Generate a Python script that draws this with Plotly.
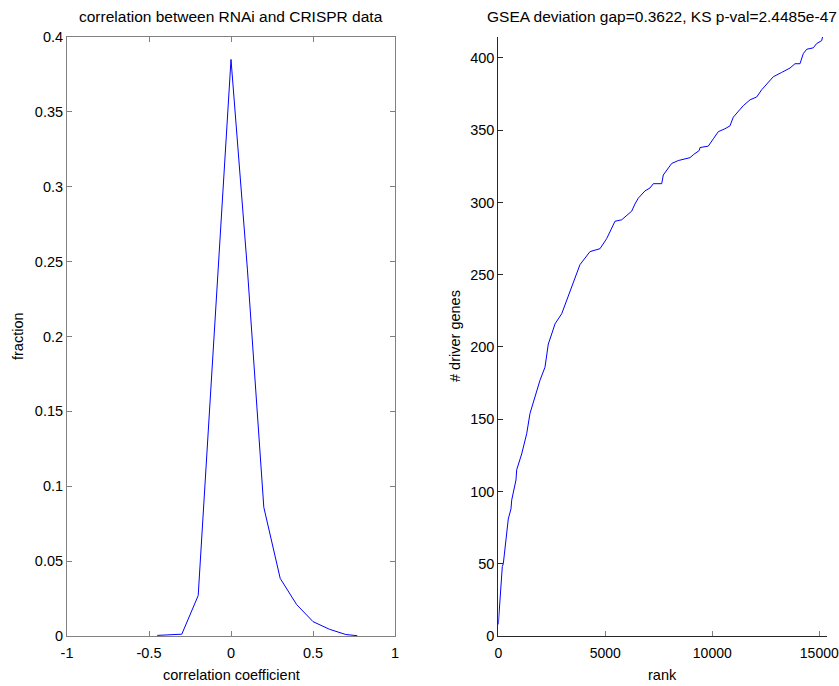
import plotly.graph_objects as go

# Left panel: distribution of correlation coefficients
corr_x = [-0.45, -0.4, -0.3, -0.2, -0.1, 0.0, 0.1, 0.2, 0.3, 0.4, 0.5, 0.6, 0.7, 0.77]
corr_frac = [0.0004, 0.0005, 0.0012, 0.027, 0.204, 0.385, 0.245, 0.086, 0.0385, 0.021, 0.0096, 0.0045, 0.001, 0.0002]

# Right panel: cumulative number of driver genes vs rank
rank = [0, 187, 234, 467, 593, 626, 827, 860, 1093, 1327, 1481, 1715, 1949, 2182, 2336, 2495,
        2650, 2963, 3196, 3490, 3818, 4285, 4752, 5065, 5299, 5453, 5766, 6000, 6234, 6388,
        6542, 6855, 7089, 7243, 7636, 7710, 7869, 8103, 8411, 8645, 8958, 9112, 9393, 9425,
        9813, 10047, 10280, 10593, 10827, 10981, 11215, 11449, 11762, 12075, 12308, 12617,
        12850, 13243, 13630, 13864, 14098, 14252, 14411, 14720, 14879, 15112, 15159]
drivers = [8, 48, 50, 81, 88, 94, 108, 115, 126, 140, 154, 166, 177, 186, 202, 209,
           216, 223, 232, 243, 257, 266, 268, 275, 283, 287, 288, 291, 294, 299,
           303, 308, 310, 313, 313, 319, 322, 327, 329, 330, 331, 333, 336, 338,
           339, 344, 349, 351, 353, 359, 363, 367, 371, 373, 378, 383,
           387, 390, 393, 396, 396, 403, 406, 407, 410, 412, 415]

W, H = 839, 686
fig = go.Figure()
fig.add_trace(go.Scatter(x=corr_x, y=corr_frac, mode="lines",
                         line=dict(color="#0000ff", width=1), xaxis="x", yaxis="y",
                         showlegend=False, hoverinfo="skip"))
fig.add_trace(go.Scatter(x=rank, y=drivers, mode="lines",
                         line=dict(color="#0000ff", width=1), xaxis="x2", yaxis="y2",
                         showlegend=False, hoverinfo="skip"))

fam = "Liberation Sans, Arial, sans-serif"
tick_font = dict(family=fam, size=14.5, color="black")
tick_font_x2 = dict(family=fam, size=14, color="black")
lab_font = dict(family=fam, size=14.5, color="black")
title_font = dict(family=fam, size=15.5, color="black")
ydom = [(H - 636) / H, (H - 37) / H]

common = dict(ticks="inside", ticklen=5, showgrid=False, zeroline=False,
              showline=True, automargin=False)

def px(x):
    return x / W

def py(y):
    return (H - y) / H

def ann(text, x, y, font, angle=0):
    return dict(text=text, x=px(x), y=py(y), xref="paper", yref="paper", showarrow=False,
                font=font, xanchor="center", yanchor="middle", textangle=angle)

fig.update_layout(
    width=W, height=H, margin=dict(l=0, r=0, t=0, b=0, autoexpand=False),
    paper_bgcolor="white", plot_bgcolor="white", font=tick_font,
    xaxis=dict(domain=[px(67), px(395)], range=[-1, 1], tickvals=[-1, -0.5, 0, 0.5, 1],
               ticktext=["-1", "-0.5", "0", "0.5", "1"], linecolor="#808080", tickcolor="#808080",
               mirror="ticks", anchor="y", ticklabelstandoff=4, tickfont=tick_font, **common),
    yaxis=dict(domain=ydom, range=[0, 0.4], tickvals=[0, 0.05, 0.1, 0.15, 0.2, 0.25, 0.3, 0.35, 0.4],
               ticktext=["0", "0.05", "0.1", "0.15", "0.2", "0.25", "0.3", "0.35", "0.4"],
               linecolor="#808080", tickcolor="#808080", mirror="ticks", anchor="x",
               tickfont=tick_font, **common),
    xaxis2=dict(domain=[px(498.3), px(827)], range=[0, 15360], tickvals=[0, 5000, 10000, 15000],
                ticktext=["0", "5000", "10000", "15000"], linecolor="#262626", tickcolor="#808080",
                anchor="y2", ticklabelstandoff=4, tickfont=tick_font_x2, **common),
    yaxis2=dict(domain=ydom, range=[0, 414.5], tickvals=[0, 50, 100, 150, 200, 250, 300, 350, 400],
                ticktext=["0", "50", "100", "150", "200", "250", "300", "350", "400"],
                linecolor="#262626", tickcolor="#262626", anchor="x2", tickfont=tick_font, **common),
    annotations=[
        ann("correlation between RNAi and CRISPR data", 231, 17, title_font),
        ann("GSEA deviation gap=0.3622, KS p-val=2.4485e-47", 662, 17, title_font),
        ann("correlation coefficient", 231, 675, lab_font),
        ann("rank", 662, 675, lab_font),
        ann("fraction", 18, 336, lab_font, -90),
        ann("# driver genes", 455, 336, lab_font, -90),
    ],
)

fig.write_html("out.html", post_script="document.body.style.margin='0';document.body.style.overflow='hidden';")
